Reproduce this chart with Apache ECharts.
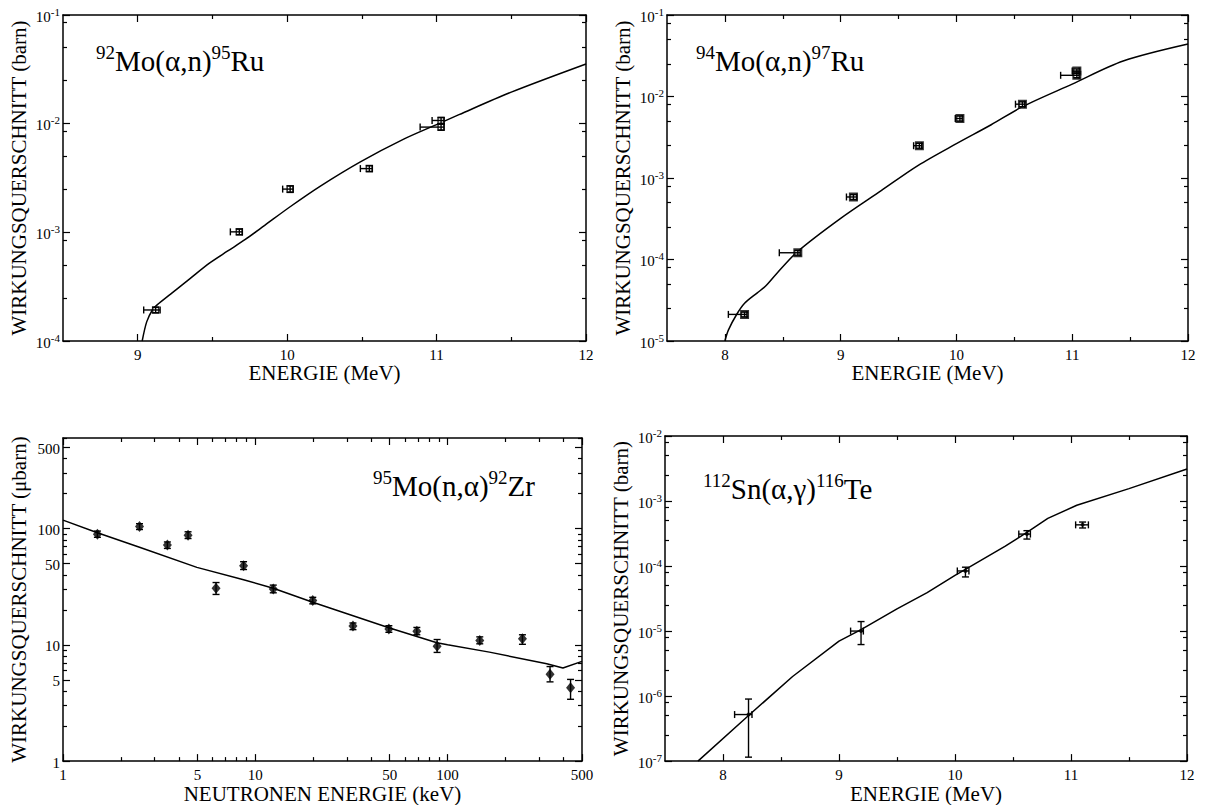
<!DOCTYPE html>
<html>
<head>
<meta charset="utf-8">
<script src="https://cdn.jsdelivr.net/npm/echarts@6.0.0/dist/echarts.min.js"></script>
<style>html,body{margin:0;padding:0;background:#fff}#c{width:1205px;height:805px}</style>
</head>
<body>
<div id="c"></div>
<script>
const FONT = 'Liberation Serif';

// ---------- Panel 1: 92Mo(a,n)95Ru ----------
const p1Curve = [[9.03,1.0e-4],[9.06,1.5e-4],[9.10,1.95e-4],[9.13,2.15e-4],[9.22,2.7e-4],[9.35,3.75e-4],[9.48,5.2e-4],[9.60,6.7e-4],[9.72,8.6e-4],[9.85,1.16e-3],[10.02,1.72e-3],[10.22,2.65e-3],[10.49,4.45e-3],[10.78,7.2e-3],[11.0,9.8e-3],[11.15,1.21e-2],[11.5,1.95e-2],[12.0,3.54e-2]];
// [E, sigma, Elow, Ehigh, sigmaLow, sigmaHigh]
const p1Points = [[9.12,1.93e-4,9.04,9.15,1.82e-4,2.04e-4],[9.68,1.01e-3,9.62,9.70,0.95e-3,1.07e-3],[10.02,2.50e-3,9.97,10.04,2.33e-3,2.68e-3],[10.55,3.86e-3,10.49,10.57,3.62e-3,4.10e-3],[11.03,1.07e-2,10.97,11.05,1.00e-2,1.14e-2],[11.03,9.3e-3,10.89,11.05,8.7e-3,9.9e-3]];
const p1XLabels = [9,10,11,12];
const p1XMinor = [9.5,10.5,11.5];
const p1YLabels = [1e-4,1e-3,1e-2,1e-1];
const p1YMinorMult = [2.5,5,8.5];

// ---------- Panel 2: 94Mo(a,n)97Ru ----------
const p2Curve = [[8.0,1.0e-5],[8.03,1.36e-5],[8.10,2.1e-5],[8.17,2.9e-5],[8.28,3.9e-5],[8.35,4.7e-5],[8.45,6.8e-5],[8.63,1.26e-4],[9.0,3.2e-4],[9.35,7.0e-4],[9.67,1.43e-3],[10.0,2.64e-3],[10.3,4.5e-3],[10.57,7.5e-3],[11.0,1.42e-2],[11.44,2.72e-2],[12.0,4.4e-2]];
const p2Points = [[8.17,2.12e-5,8.03,8.19,1.98e-5,2.26e-5],[8.63,1.21e-4,8.47,8.65,1.13e-4,1.29e-4],[9.11,5.85e-4,9.05,9.14,5.45e-4,6.25e-4],[9.68,2.49e-3,9.63,9.70,2.32e-3,2.66e-3],[10.03,5.37e-3,9.99,10.05,5.0e-3,5.75e-3],[10.57,8.05e-3,10.51,10.59,7.5e-3,8.6e-3],[11.04,2.05e-2,11.0,11.06,1.92e-2,2.18e-2],[11.04,1.82e-2,10.9,11.06,1.7e-2,1.94e-2]];
const p2XLabels = [8,9,10,11,12];
const p2XMinor = [8.5,9.5,10.5,11.5];
const p2YLabels = [1e-5,1e-4,1e-3,1e-2,1e-1];
const p2YMinorMult = [2.5,5,8];

// ---------- Panel 3: 95Mo(n,a)92Zr ----------
const p3Curve = [[1,118],[1.51,92],[2.5,69],[4.97,46.3],[8.69,36.3],[12.4,30.6],[19.9,23.2],[49.5,14.0],[88,10.4],[100,10.0],[165,8.65],[328,6.87],[398,6.31],[500,7.2]];
// [E, sigma, E, E, sigmaLow, sigmaHigh]
const p3Points = [[1.51,89.4,1.51,1.51,84,95],[2.5,104,2.5,2.5,98,110],[3.49,72,3.49,3.49,67.4,76.6],[4.47,87.7,4.47,4.47,82,93.7],[6.25,30.6,6.25,6.25,27.1,34.3],[8.69,47.9,8.69,8.69,44.4,51.8],[12.4,30.2,12.4,12.4,28,32.6],[19.9,24.0,19.9,19.9,22.5,25.6],[32.2,14.5,32.2,32.2,13.5,15.4],[49.5,13.7,49.5,49.5,12.8,14.6],[69.2,13.1,69.2,69.2,12.2,14.1],[88.2,9.7,88.2,88.2,8.6,11.1],[147,10.9,147,147,10.2,11.7],[245,11.3,245,245,10.1,12.2],[341,5.57,341,341,4.8,6.5],[436,4.28,436,436,3.4,5.04]];
const p3XLabels = [1,5,10,50,100,500];
const p3YLabels = [1,5,10,50,100,500];
const p3MinorMult = [2,3,4,6,7,8,9];

// ---------- Panel 4: 112Sn(a,g)116Te ----------
const p4Curve = [[7.784,1.0e-7],[8.23,5.2e-7],[8.6,2.0e-6],[9.0,7.0e-6],[9.19,1.05e-5],[9.5,2.2e-5],[9.76,3.9e-5],[10.0,7.2e-5],[10.09,8.9e-5],[10.43,2.0e-4],[10.62,3.3e-4],[10.8,5.4e-4],[11.05,8.6e-4],[11.5,1.55e-3],[12.0,3.1e-3]];
const p4Points = [[8.22,5.2e-7,8.10,8.25,1.15e-7,9.0e-7],[9.19,1.0e-5,9.10,9.21,6.2e-6,1.4e-5],[10.09,8.4e-5,10.02,10.12,6.8e-5,9.6e-5],[10.62,3.1e-4,10.55,10.65,2.6e-4,3.5e-4],[11.1,4.3e-4,11.04,11.15,3.85e-4,4.75e-4]];
const p4XLabels = [8,9,10,11,12];
const p4XMinor = [8.5,9.5,10.5,11.5];
const p4YLabels = [1e-7,1e-6,1e-5,1e-4,1e-3,1e-2];
const p4YMinorMult = [2.5,5,8];

const titles = [
  ['92','Mo(α,n)','95','Ru'],
  ['94','Mo(α,n)','97','Ru'],
  ['95','Mo(n,α)','92','Zr'],
  ['112','Sn(α,γ)','116','Te']
];
const xNames = ['ENERGIE (MeV)','ENERGIE (MeV)','NEUTRONEN ENERGIE (keV)','ENERGIE (MeV)'];
const yNames = ['WIRKUNGSQUERSCHNITT (barn)','WIRKUNGSQUERSCHNITT (barn)','WIRKUNGSQUERSCHNITT (μbarn)','WIRKUNGSQUERSCHNITT (barn)'];

// ---------- helpers ----------
function decadeMinors(decades, mult) {
  const out = [];
  decades.forEach(d => mult.forEach(m => out.push(+(d * m).toPrecision(6))));
  return out;
}
const powFmt = v => '{b|10}{s|' + Math.round(Math.log10(v)) + '}';
const plainFmt = v => '{b|' + v + '}';
const tickRich = {
  b: {fontSize: 15, fontFamily: FONT, fontWeight: 'normal', color: '#000', lineHeight: 18, verticalAlign: 'bottom'},
  s: {fontSize: 11, fontFamily: FONT, fontWeight: 'normal', color: '#000', lineHeight: 11, verticalAlign: 'top'}
};
const nameRich = {n: {fontSize: 21, fontFamily: FONT, fontWeight: 'normal', color: '#000'}};
const lineSt = {color: '#000', width: 1.5};
const tickSt = {color: '#000', width: 1.2};

function makeAxes(dim, gi, type, min, max, majors, minors, labels, fmt, name, nameGap) {
  const pos = dim === 'x' ? ['bottom', 'top'] : ['left', 'right'];
  const base = {type: type, min: min, max: max, gridIndex: gi, splitLine: {show: false}, silent: true};
  const arr = [];
  [0, 1].forEach(side => {
    arr.push(Object.assign({}, base, {
      position: pos[side],
      axisLine: {show: true, onZero: false, lineStyle: lineSt},
      axisTick: {show: true, inside: true, length: 7, customValues: majors, lineStyle: tickSt},
      axisLabel: side === 0 ? {show: true, customValues: labels, formatter: fmt, rich: tickRich,
        margin: dim === 'x' ? 3 : 3, color: '#000', fontFamily: FONT, fontSize: 15} : {show: false},
      name: side === 0 ? '{n|' + name + '}' : '',
      nameLocation: 'middle', nameGap: nameGap,
      nameTextStyle: {fontFamily: FONT, fontSize: 21, color: '#000', rich: nameRich}
    }));
    arr.push(Object.assign({}, base, {
      position: pos[side],
      axisLine: {show: false},
      axisTick: {show: true, inside: true, length: 4, customValues: minors, lineStyle: tickSt},
      axisLabel: {show: false}
    }));
  });
  return arr;
}

function errRender(cap) {
  return function (params, api) {
    const x = api.value(0), y = api.value(1);
    const xl = api.value(2), xh = api.value(3), yl = api.value(4), yh = api.value(5);
    const st = {stroke: '#000', lineWidth: 1.4};
    const ch = [];
    if (xh > xl) {
      const a = api.coord([xl, y]), b = api.coord([xh, y]);
      ch.push({type: 'line', shape: {x1: a[0], y1: a[1], x2: b[0], y2: b[1]}, style: st});
      ch.push({type: 'line', shape: {x1: a[0], y1: a[1] - cap, x2: a[0], y2: a[1] + cap}, style: st});
      ch.push({type: 'line', shape: {x1: b[0], y1: b[1] - cap, x2: b[0], y2: b[1] + cap}, style: st});
    }
    if (yh > yl) {
      const a = api.coord([x, yl]), b = api.coord([x, yh]);
      ch.push({type: 'line', shape: {x1: a[0], y1: a[1], x2: b[0], y2: b[1]}, style: st});
      ch.push({type: 'line', shape: {x1: a[0] - cap, y1: a[1], x2: a[0] + cap, y2: a[1]}, style: st});
      ch.push({type: 'line', shape: {x1: b[0] - cap, y1: b[1], x2: b[0] + cap, y2: b[1]}, style: st});
    }
    return {type: 'group', children: ch};
  };
}

const grids = [
  {left: 63, top: 15, width: 523, height: 326},
  {left: 667, top: 15, width: 521, height: 326},
  {left: 63, top: 438, width: 519, height: 325},
  {left: 665, top: 436, width: 522, height: 327}
];

let xAxes = [], yAxes = [];
xAxes = xAxes.concat(makeAxes('x', 0, 'value', 8.5, 12, p1XLabels, p1XMinor, p1XLabels, plainFmt, xNames[0], 20));
yAxes = yAxes.concat(makeAxes('y', 0, 'log', 1e-4, 1e-1, p1YLabels, decadeMinors([1e-4,1e-3,1e-2], p1YMinorMult), p1YLabels, powFmt, yNames[0], 34));
xAxes = xAxes.concat(makeAxes('x', 1, 'value', 7.5, 12, p2XLabels, p2XMinor, p2XLabels, plainFmt, xNames[1], 20));
yAxes = yAxes.concat(makeAxes('y', 1, 'log', 1e-5, 1e-1, p2YLabels, decadeMinors([1e-5,1e-4,1e-3,1e-2], p2YMinorMult), p2YLabels, powFmt, yNames[1], 34));
xAxes = xAxes.concat(makeAxes('x', 2, 'log', 1, 500, p3XLabels, decadeMinors([1,10,100], p3MinorMult).filter(v => v < 500), p3XLabels, plainFmt, xNames[2], 17));
yAxes = yAxes.concat(makeAxes('y', 2, 'log', 1, 600, p3YLabels, decadeMinors([1,10,100], p3MinorMult), p3YLabels, plainFmt, yNames[2], 34));
xAxes = xAxes.concat(makeAxes('x', 3, 'value', 7.5, 12, p4XLabels, p4XMinor, p4XLabels, plainFmt, xNames[3], 20));
yAxes = yAxes.concat(makeAxes('y', 3, 'log', 1e-7, 1e-2, p4YLabels, decadeMinors([1e-7,1e-6,1e-5,1e-4,1e-3], p4YMinorMult), p4YLabels, powFmt, yNames[3], 34));

const curves = [p1Curve, p2Curve, p3Curve, p4Curve];
const points = [p1Points, p2Points, p3Points, p4Points];
const smooths = [0.3, 0.3, false, false];
const markers = [
  {symbol: 'rect', symbolSize: 6, itemStyle: {color: '#fff', borderColor: '#000', borderWidth: 1.5}},
  {symbol: 'rect', symbolSize: 7, itemStyle: {color: '#fff', borderColor: '#000', borderWidth: 2}},
  {symbol: 'diamond', symbolSize: [9, 11], itemStyle: {color: '#000'}},
  {symbol: 'circle', symbolSize: 4, itemStyle: {color: '#000'}}
];
const caps = [3.5, 3.5, 3.5, 3.5];

const series = [];
for (let i = 0; i < 4; i++) {
  const xi = i * 4, yi = i * 4;
  series.push({type: 'line', xAxisIndex: xi, yAxisIndex: yi, data: curves[i], showSymbol: false, symbol: 'none',
    smooth: smooths[i], lineStyle: {color: '#000', width: 1.5}, z: 2, silent: true});
  series.push(Object.assign({type: 'scatter', xAxisIndex: xi, yAxisIndex: yi,
    data: points[i].map(p => [p[0], p[1]]), z: 3, silent: true}, markers[i]));
  series.push({type: 'custom', xAxisIndex: xi, yAxisIndex: yi, data: points[i],
    encode: {x: [0, 2, 3], y: [1, 4, 5]}, renderItem: errRender(caps[i]), z: 4, silent: true});
}

const titlePos = [
  {left: 96, top: 43},
  {left: 696, top: 43},
  {left: 373, top: 468},
  {left: 703, top: 471}
];
const titleRich = {
  m: {fontSize: 29, fontFamily: FONT, fontWeight: 'normal', color: '#000', lineHeight: 32, verticalAlign: 'bottom'},
  s: {fontSize: 19, fontFamily: FONT, fontWeight: 'normal', color: '#000', lineHeight: 19, verticalAlign: 'top'}
};
const titleComps = titles.map((t, i) => ({
  text: '{s|' + t[0] + '}{m|' + t[1] + '}{s|' + t[2] + '}{m|' + t[3] + '}',
  left: titlePos[i].left, top: titlePos[i].top, padding: 0,
  textStyle: {rich: titleRich, fontFamily: FONT, fontWeight: 'normal'}
}));

const chart = echarts.init(document.getElementById('c'), null, {renderer: 'svg'});
chart.setOption({
  animation: false,
  backgroundColor: '#fff',
  textStyle: {fontFamily: FONT},
  title: titleComps,
  grid: grids,
  xAxis: xAxes,
  yAxis: yAxes,
  series: series
});
</script>
</body>
</html>
